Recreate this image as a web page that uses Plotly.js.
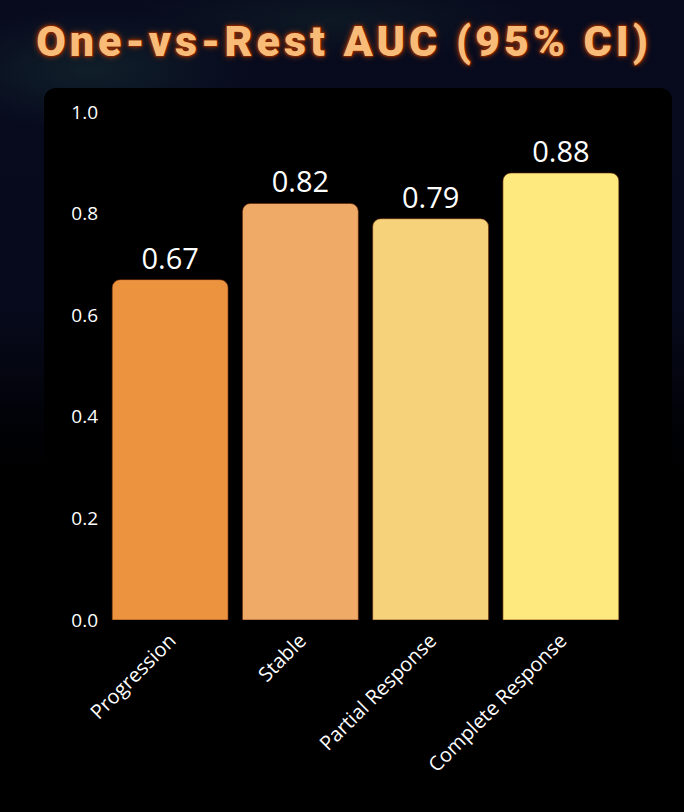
<!DOCTYPE html>
<html>
<head>
<meta charset="utf-8">
<script src="https://cdn.plot.ly/plotly-3.0.1.min.js"></script>
<style>
  html, body { margin: 0; padding: 0; }
  body {
    width: 684px; height: 812px; overflow: hidden; position: relative;
    background:
      radial-gradient(ellipse 160px 60px at 90px 70px, rgba(22,48,52,0.55), rgba(0,0,0,0)),
      radial-gradient(ellipse 200px 40px at 330px 20px, rgba(20,40,44,0.45), rgba(0,0,0,0)),
      linear-gradient(to bottom, #080b1e 0%, #070a1c 38%, #02030a 50%, #000 58%);
  }
  #panel {
    position: absolute; left: 44px; top: 88px; width: 628px; height: 760px;
    background: #000; border-radius: 12px;
  }
  #chart { position: absolute; left: 0; top: 0; width: 684px; height: 812px; }
  .gtitle { letter-spacing: 4px; }
</style>
</head>
<body>
<div id="panel"></div>
<div id="chart"></div>
<script>
// one-vs-rest AUC per response class
const classes = ['Progression', 'Stable', 'Partial Response', 'Complete Response'];
const auc = [0.67, 0.82, 0.79, 0.88];
const barColors = ['#ec9340', '#eeaa66', '#f6d27a', '#fde97e'];

const trace = {
    x: classes,
    y: auc,
    type: 'bar',
    text: auc.map(v => v.toFixed(2)),
    textposition: 'outside',
    cliponaxis: false,
    textfont: { family: 'Open Sans', size: 29, color: '#ffffff' },
    marker: {
        color: barColors,
        cornerradius: 8,
        line: { color: '#5a1e05', width: 0.6 }
    },
    hoverinfo: 'none'
};

const layout = {
    width: 684,
    height: 812,
    margin: { l: 105, r: 58, t: 112, b: 192 },
    paper_bgcolor: 'rgba(0,0,0,0)',
    plot_bgcolor: 'rgba(0,0,0,0)',
    showlegend: false,
    bargap: 0.11,
    title: {
        text: 'One-vs-Rest AUC (95% CI)',
        x: 0.503,
        xref: 'container',
        xanchor: 'center',
        y: 0.949,
        yanchor: 'middle',
        font: {
            family: 'Roboto',
            weight: 900,
            size: 43,
            color: '#f8bc78',
            shadow: '1px 1px 1px #7a2400, -1px -1px 1px #7a2400, 1px -1px 1px #7a2400, -1px 1px 1px #7a2400, 0 0 6px #b8440c'
        }
    },
    xaxis: {
        range: [-0.5, 3.5],
        tickangle: -45,
        showgrid: false,
        zeroline: false,
        showline: false,
        ticks: '',
        ticklabelstandoff: 4,
        tickfont: { family: 'Open Sans', size: 20, color: '#ffffff' }
    },
    yaxis: {
        range: [0, 1.0],
        tickvals: [0, 0.2, 0.4, 0.6, 0.8, 1.0],
        ticktext: ['0.0', '0.2', '0.4', '0.6', '0.8', '1.0'],
        showgrid: false,
        zeroline: false,
        showline: false,
        ticks: '',
        ticklabelstandoff: 6,
        tickfont: { family: 'Open Sans', size: 19, color: '#ffffff' }
    }
};

Plotly.newPlot('chart', [trace], layout, { displayModeBar: false, staticPlot: true });
</script>
</body>
</html>
